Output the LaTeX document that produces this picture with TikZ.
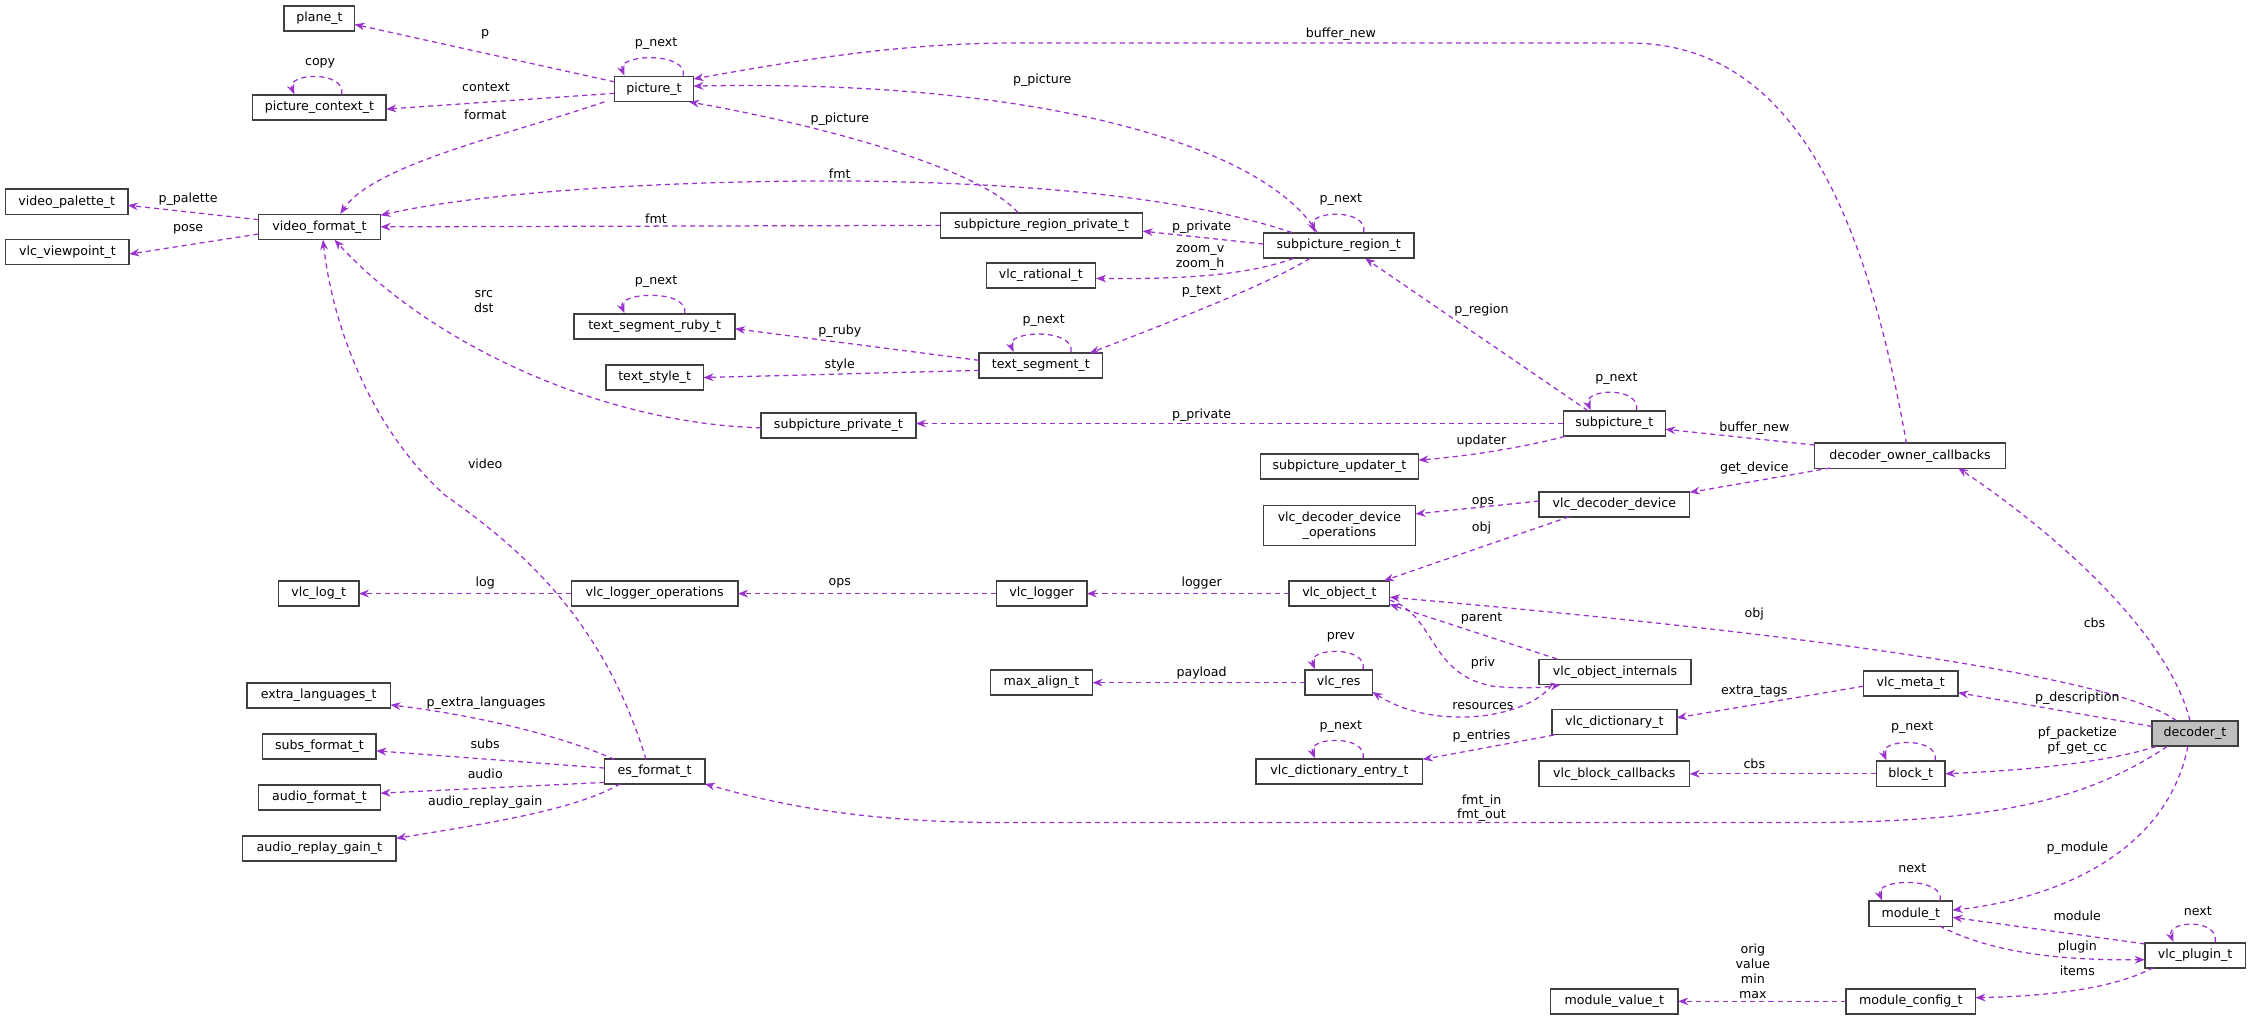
\documentclass[tikz,border=0pt]{standalone}
\usepackage{fontspec}
\setmainfont{DejaVu Sans}
\usetikzlibrary{calc,arrows.meta}
\definecolor{edgec}{HTML}{9A32CD}
\definecolor{boxc}{HTML}{404040}
\tikzset{
  x=0.03cm,y=-0.03cm,
  box/.style={draw=boxc,line width=0.9pt,fill=white,inner sep=0pt,minimum height=17.5*0.03cm,font=\fontsize{7.5}{8.8}\selectfont,align=center},
  bw/.style={minimum width=#1*0.03cm},
  lbl/.style={inner sep=0pt,font=\fontsize{7.5}{8.8}\selectfont,align=center},
  edge/.style={draw=edgec,line width=0.75pt,dash pattern=on 3pt off 2.4pt,-{Stealth[length=6pt,width=4.6pt]}},
}
\newcommand\selfloop[3]{\draw[edge] ($(#1.north)+(#2,0)$) .. controls +(3,-17) and +(-6,-15) .. ($(#1.north)+(#3,0)$);}
\begin{document}
\begin{tikzpicture}
\useasboundingbox (0,0) rectangle (1568,710.5);
% nodes
\node[box,bw=49] (plane) at (222.5,13) {plane\_t};
\node[box,bw=93] (pctx) at (222.5,75) {picture\_context\_t};
\node[box,bw=55] (pic) at (455.5,62) {picture\_t};
\node[box,bw=85] (vpal) at (46.5,140.5) {video\_palette\_t};
\node[box,bw=86] (vvp) at (47,175.5) {vlc\_viewpoint\_t};
\node[box,bw=85] (vfmt) at (222.5,158) {video\_format\_t};
\node[box,bw=141] (sprp) at (725.5,157) {subpicture\_region\_private\_t};
\node[box,bw=105] (sreg) at (932.5,171) {subpicture\_region\_t};
\node[box,bw=76] (vrat) at (725,192) {vlc\_rational\_t};
\node[box,bw=112] (ruby) at (456,227.5) {text\_segment\_ruby\_t};
\node[box,bw=68] (tsty) at (456,263) {text\_style\_t};
\node[box,bw=86] (tseg) at (725,254.5) {text\_segment\_t};
\node[box,bw=108] (sppriv) at (584,296.5) {subpicture\_private\_t};
\node[box,bw=71] (spic) at (1124.5,295) {subpicture\_t};
\node[box,bw=110] (supd) at (933,325) {subpicture\_updater\_t};
\node[box,bw=133] (doc) at (1330.5,317.5) {decoder\_owner\_callbacks};
\node[box,bw=106,minimum height=28*0.03cm] (vddo) at (933,366) {vlc\_decoder\_device\\\_operations};
\node[box,bw=105] (vdd) at (1124.5,351.5) {vlc\_decoder\_device};
\node[box,bw=56] (vlog) at (222,413.5) {vlc\_log\_t};
\node[box,bw=116] (vlops) at (456,413.5) {vlc\_logger\_operations};
\node[box,bw=63] (vlogger) at (725.5,413.5) {vlc\_logger};
\node[box,bw=70] (vobj) at (933,413.5) {vlc\_object\_t};
\node[box,bw=71] (malign) at (725.5,475.5) {max\_align\_t};
\node[box,bw=47] (vres) at (932.5,475.5) {vlc\_res};
\node[box,bw=106] (voi) at (1125,468) {vlc\_object\_internals};
\node[box,bw=66] (vmeta) at (1331,476) {vlc\_meta\_t};
\node[box,bw=100] (xlang) at (222,484.5) {extra\_languages\_t};
\node[box,bw=87] (vdict) at (1124.5,503) {vlc\_dictionary\_t};
\node[box,bw=60,fill={rgb,255:red,191;green,191;blue,191}] (dec) at (1529,511) {decoder\_t};
\node[box,bw=79] (subs) at (222.5,520) {subs\_format\_t};
\node[box,bw=70] (es) at (456,537.5) {es\_format\_t};
\node[box,bw=116] (vde) at (933,537.5) {vlc\_dictionary\_entry\_t};
\node[box,bw=105] (vbc) at (1124.5,539) {vlc\_block\_callbacks};
\node[box,bw=48] (block) at (1331,539) {block\_t};
\node[box,bw=85] (afmt) at (222.5,555.5) {audio\_format\_t};
\node[box,bw=107] (arg) at (222.5,591) {audio\_replay\_gain\_t};
\node[box,bw=58] (mod) at (1331,636.5) {module\_t};
\node[box,bw=70] (plug) at (1529,665.5) {vlc\_plugin\_t};
\node[box,bw=90] (mcfg) at (1331,697.5) {module\_config\_t};
\node[box,bw=89] (mval) at (1124.5,697.5) {module\_value\_t};
% edges
\draw[edge] ($(pic)+(-27.5,-5)$) -- ($(plane)+(24.5,4)$);
\selfloop{pic}{20.5}{-20.5}
\selfloop{pctx}{15.5}{-17.5}
\draw[edge] ($(pic)+(-27.5,3)$) -- ($(pctx)+(46.5,1)$);
\draw[edge] ($(pic)+(-34.5,9)$) .. controls (350,95) and (260,115) .. ($(vfmt)+(14.5,-9)$);
\draw[edge] ($(vfmt)+(-42.5,-5)$) -- ($(vpal)+(42.5,2.5)$);
\draw[edge] ($(vfmt)+(-42.5,5)$) -- ($(vvp)+(43,1.5)$);
\draw[edge] ($(sreg)+(-32.5,-9)$) .. controls (820,135) and (700,127) .. (585,126) .. controls (450,126) and (330,135) .. ($(vfmt)+(42.5,-8)$);
\draw[edge] ($(sprp)+(-70.5,0)$) -- ($(vfmt)+(42.5,0)$);
\draw[edge] ($(sprp)+(-16.5,-9)$) .. controls (680,115) and (560,85) .. ($(pic)+(24.5,9)$);
\draw[edge] ($(sreg)+(-15,-9)$) .. controls (880,100) and (720,55) .. ($(pic)+(27.5,-2)$);
\draw[edge] ($(doc)+(-2.5,-8.5)$) .. controls (1300,150) and (1250,30) .. (1135,30) -- (704,30) .. controls (620,30) and (540,45) .. ($(pic)+(27.5,-7)$);
\selfloop{sreg}{17.5}{-16.5}
\draw[edge] ($(sreg)+(-52.5,-1)$) -- ($(sprp)+(70.5,4)$);
\draw[edge] ($(sreg)+(-31.5,9)$) .. controls (860,195) and (800,194) .. ($(vrat)+(38.5,2)$);
\draw[edge] ($(sreg)+(-20,9)$) .. controls (880,200) and (800,230) .. ($(tseg)+(34,-8.5)$);
\selfloop{tseg}{21}{-19}
\draw[edge] ($(tseg)+(-43,-3.5)$) -- ($(ruby)+(56,1.5)$);
\draw[edge] ($(tseg)+(-43,3.5)$) -- ($(tsty)+(34,0)$);
\selfloop{ruby}{21}{-21}
\draw[edge] ($(es)+(-6,-8.5)$) .. controls (420,430) and (360,380) .. (310,345) .. controls (260,300) and (232,230) .. ($(vfmt)+(2.5,9)$);
\draw[edge] ($(sppriv)+(-54,1.5)$) .. controls (420,295) and (300,240) .. ($(vfmt)+(10.5,9)$);
\draw[edge] ($(spic)+(-35.5,0)$) -- ($(sppriv)+(54,-1.5)$);
\draw[edge] ($(spic)+(-18.5,-9)$) -- ($(sreg)+(18.5,9)$);
\selfloop{spic}{15.5}{-16.5}
\draw[edge] ($(spic)+(-34.5,9)$) .. controls (1060,312) and (1020,318) .. ($(supd)+(55,-4.5)$);
\draw[edge] ($(doc)+(-66.5,-7.5)$) -- ($(spic)+(35.5,4)$);
\draw[edge] ($(doc)+(-55.5,8.5)$) -- ($(vdd)+(52.5,-8.5)$);
\draw[edge] ($(vdd)+(-52.5,-2.5)$) -- ($(vddo)+(53,-8)$);
\draw[edge] ($(vdd)+(-31.5,8.5)$) -- ($(vobj)+(31,-9)$);
\draw[edge] ($(vobj)+(-35,0)$) -- ($(vlogger)+(31.5,0)$);
\draw[edge] ($(vlogger)+(-31.5,0)$) -- ($(vlops)+(58,0)$);
\draw[edge] ($(vlops)+(-58,0)$) -- ($(vlog)+(28,0)$);
\draw[edge] ($(voi)+(-40.5,-9)$) -- ($(vobj)+(35,7.5)$);
\draw[edge] ($(vobj)+(35,4.5)$) .. controls (1000,428) and (995,470) .. (1040,478) .. controls (1060,480) and (1075,479) .. ($(voi)+(-38,9)$);
\selfloop{vres}{17}{-16.5}
\draw[edge] ($(vres)+(-23.5,0)$) -- ($(malign)+(35.5,0)$);
\draw[edge] ($(voi)+(-44,9)$) .. controls (1065,500) and (1000,510) .. ($(vres)+(23.5,6.5)$);
\draw[edge] ($(vdict)+(-42,9)$) -- ($(vde)+(58,-8.5)$);
\selfloop{vde}{16.5}{-17}
\draw[edge] ($(vmeta)+(-33,2)$) -- ($(vdict)+(43.5,-3)$);
\draw[edge] ($(dec)+(-3.5,-9)$) .. controls (1510,440) and (1430,370) .. ($(doc)+(33.5,8.5)$);
\draw[edge] ($(dec)+(-13,-9)$) .. controls (1480,475) and (1300,445) .. ($(vobj)+(35,2.5)$);
\draw[edge] ($(dec)+(-30,-5)$) -- ($(vmeta)+(33,6.5)$);
\draw[edge] ($(dec)+(-27,9)$) .. controls (1460,533) and (1400,537) .. ($(block)+(24,0)$);
\selfloop{block}{17}{-17}
\draw[edge] ($(block)+(-24,0)$) -- ($(vbc)+(52.5,0)$);
\draw[edge] ($(dec)+(-19.5,9)$) .. controls (1450,560) and (1380,573) .. (1254,573) -- (700,573) .. controls (600,573) and (540,560) .. ($(es)+(35,8.5)$);
\draw[edge] ($(es)+(-28,-8.5)$) .. controls (390,512) and (330,498) .. ($(xlang)+(50,6.5)$);
\draw[edge] ($(es)+(-35,-2.5)$) -- ($(subs)+(39.5,3)$);
\draw[edge] ($(es)+(-35,7.5)$) -- ($(afmt)+(42.5,-3)$);
\draw[edge] ($(es)+(-24,8.5)$) .. controls (400,565) and (330,575) .. ($(arg)+(53.5,-7)$);
\draw[edge] ($(dec)+(-5,9)$) .. controls (1510,590) and (1440,625) .. ($(mod)+(29,-2.5)$);
\selfloop{mod}{20.5}{-20}
\draw[edge] ($(plug)+(-35,-8)$) -- ($(mod)+(29,2.5)$);
\draw[edge] ($(mod)+(20,8.5)$) .. controls (1390,665) and (1440,669) .. ($(plug)+(-35,3)$);
\selfloop{plug}{14}{-15}
\draw[edge] ($(plug)+(-29,8.5)$) .. controls (1470,690) and (1420,694) .. ($(mcfg)+(45,-2.5)$);
\draw[edge] ($(mcfg)+(-45,0)$) -- ($(mval)+(44.5,0)$);
% labels
\node[lbl] (l1) at (338,24) {p};
\node[lbl] (l2) at (457,30.6) {p\_next};
\node[lbl] (l3) at (223,44) {copy};
\node[lbl] (l4) at (338.5,61) {context};
\node[lbl] (l5) at (338,80) {format};
\node[lbl] (l6) at (131,139) {p\_palette};
\node[lbl] (l7) at (131,160) {pose};
\node[lbl] (l8) at (585,121) {fmt};
\node[lbl] (l9) at (457,152) {fmt};
\node[lbl] (l10) at (585,83) {p\_picture};
\node[lbl] (l11) at (726,56) {p\_picture};
\node[lbl] (l12) at (934,24) {buffer\_new};
\node[lbl] (l13) at (934,139) {p\_next};
\node[lbl] (l14) at (837,158) {p\_private};
\node[lbl] (l15) at (836,179.5) {zoom\_v\\zoom\_h};
\node[lbl] (l16) at (837,203) {p\_text};
\node[lbl] (l17) at (727,223) {p\_next};
\node[lbl] (l18) at (585,231) {p\_ruby};
\node[lbl] (l19) at (585,254) {style};
\node[lbl] (l20) at (457,196) {p\_next};
\node[lbl] (l21) at (338,323) {video};
\node[lbl] (l22) at (337,210) {src\\dst};
\node[lbl] (l23) at (837,289) {p\_private};
\node[lbl] (l24) at (1032,216) {p\_region};
\node[lbl] (l25) at (1126,264) {p\_next};
\node[lbl] (l26) at (1032,307) {updater};
\node[lbl] (l27) at (1222,298) {buffer\_new};
\node[lbl] (l28) at (1222,326) {get\_device};
\node[lbl] (l29) at (1033,350) {ops};
\node[lbl] (l30) at (1032,368) {obj};
\node[lbl] (l31) at (837,406) {logger};
\node[lbl] (l32) at (585,406) {ops};
\node[lbl] (l33) at (338,406) {log};
\node[lbl] (l34) at (1032,431) {parent};
\node[lbl] (l35) at (1033,462) {priv};
\node[lbl] (l36) at (934,444) {prev};
\node[lbl] (l37) at (837,469) {payload};
\node[lbl] (l38) at (1033,492) {resources};
\node[lbl] (l39) at (1032,513) {p\_entries};
\node[lbl] (l40) at (934,506) {p\_next};
\node[lbl] (l41) at (1222,482) {extra\_tags};
\node[lbl] (l42) at (1459,434) {cbs};
\node[lbl] (l43) at (1222,428) {obj};
\node[lbl] (l44) at (1447,486) {p\_description};
\node[lbl] (l45) at (1447,516) {pf\_packetize\\pf\_get\_cc};
\node[lbl] (l46) at (1332,507) {p\_next};
\node[lbl] (l47) at (1222,532) {cbs};
\node[lbl] (l48) at (1032,563) {fmt\_in\\fmt\_out};
\node[lbl] (l49) at (338.5,489.6) {p\_extra\_languages};
\node[lbl] (l50) at (338,518) {subs};
\node[lbl] (l51) at (338,539) {audio};
\node[lbl] (l52) at (338,559) {audio\_replay\_gain};
\node[lbl] (l53) at (1447,591) {p\_module};
\node[lbl] (l54) at (1332,605) {next};
\node[lbl] (l55) at (1447,638) {module};
\node[lbl] (l56) at (1447,660) {plugin};
\node[lbl] (l57) at (1531,635) {next};
\node[lbl] (l58) at (1447,676) {items};
\node[lbl] (l59) at (1221,676.5) {orig\\value\\min\\max};
\end{tikzpicture}
\end{document}
